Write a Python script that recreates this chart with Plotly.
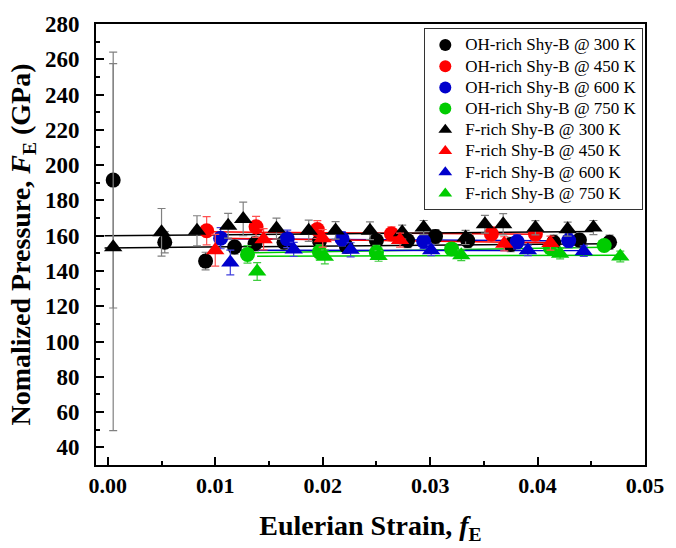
import plotly.graph_objects as go

# ---------------- data ----------------
series_names = ["OH-rich Shy-B @ 300 K", "OH-rich Shy-B @ 450 K", "OH-rich Shy-B @ 600 K", "OH-rich Shy-B @ 750 K",
                "F-rich Shy-B @ 300 K", "F-rich Shy-B @ 450 K", "F-rich Shy-B @ 600 K", "F-rich Shy-B @ 750 K"]

oh300_x = [0.0005, 0.0053, 0.0091, 0.0118, 0.0137, 0.0164, 0.0197, 0.0222, 0.0250, 0.0279, 0.0305, 0.0335, 0.0375, 0.0415, 0.0439, 0.0467]
oh300_y = [191.5, 156.3, 145.6, 153.6, 155.4, 156.3, 157.0, 154.0, 157.2, 157.2, 159.5, 157.2, 155.0, 156.3, 157.5, 156.3]
oh300_e = [72.5, 6, 5, 4, 4, 4, 4, 4, 4, 4, 4, 4, 4, 4, 4, 4]

oh450_x = [0.0092, 0.0138, 0.0195, 0.0264, 0.0357, 0.0398]
oh450_y = [162.8, 165.0, 163.5, 161.0, 161.0, 161.0]
oh450_e = [8, 6, 5, 4, 4, 4]

oh600_x = [0.0105, 0.0167, 0.0218, 0.0294, 0.0381, 0.0429]
oh600_y = [158.6, 158.2, 158.2, 156.8, 156.5, 157.2]
oh600_e = [6, 5, 4, 4, 4, 4]

oh750_x = [0.0130, 0.0197, 0.0250, 0.0320, 0.0412, 0.0462]
oh750_y = [149.4, 150.8, 150.5, 152.5, 153.0, 154.4]
oh750_e = [5, 4, 4, 3, 3, 3]

f300_x = [0.0005, 0.0050, 0.0083, 0.0112, 0.0126, 0.0157, 0.0187, 0.0212, 0.0244, 0.0274, 0.0294, 0.0333, 0.0351, 0.0368, 0.0398, 0.0428, 0.0452]
f300_y = [153.5, 161.9, 162.8, 165.6, 169.5, 164.0, 162.8, 163.0, 162.8, 162.0, 164.6, 159.0, 166.5, 166.5, 164.5, 163.7, 164.6]
f300_e = [104, 13.5, 8.5, 7, 9.5, 6, 6, 5, 5, 4, 4, 4, 5, 6, 4, 4, 4]

f450_x = [0.0100, 0.0145, 0.0200, 0.0272, 0.0369, 0.0412]
f450_y = [151.7, 158.0, 158.5, 157.5, 155.4, 155.8]
f450_e = [9, 6, 5, 4, 4, 4]

f600_x = [0.0114, 0.0173, 0.0226, 0.0301, 0.0391, 0.0443]
f600_y = [144.8, 152.2, 152.0, 151.7, 151.7, 151.2]
f600_e = [7, 4, 4, 3, 3, 3]

f750_x = [0.0139, 0.0202, 0.0252, 0.0329, 0.0421, 0.0477]
f750_y = [139.7, 148.0, 148.5, 148.9, 149.8, 148.2]
f750_e = [5, 4, 3, 3, 3, 3]

# linear fits  F_E = a + b * f_E
fit_a = [153.1, 162.6, 158.7, 149.0, 160.0, 159.3, 151.9, 148.0]
fit_b = [51.0, -45.0, -40.0, 97.0, 51.0, -80.0, -8.0, 20.0]
fit_x0 = [-0.0003, 0.0092, 0.0105, 0.0130, -0.0003, 0.0100, 0.0114, 0.0139]
fit_x1 = [0.0467, 0.0398, 0.0429, 0.0462, 0.0452, 0.0412, 0.0443, 0.0477]

x_ticks = [0.00, 0.01, 0.02, 0.03, 0.04, 0.05]
y_ticks = [40, 60, 80, 100, 120, 140, 160, 180, 200, 220, 240, 260, 280]

# ---------------- styles ----------------
colors = ["#000000", "#ff0000", "#0000cc", "#00cc00", "#000000", "#ff0000", "#0000cc", "#00cc00"]
err_colors = ["#808080", "#ff5050", "#4040dd", "#40cc40", "#808080", "#ff5050", "#4040dd", "#40cc40"]
symbols = ["circle"] * 4 + ["triangle-up"] * 4
xs = [oh300_x, oh450_x, oh600_x, oh750_x, f300_x, f450_x, f600_x, f750_x]
ys = [oh300_y, oh450_y, oh600_y, oh750_y, f300_y, f450_y, f600_y, f750_y]
es = [oh300_e, oh450_e, oh600_e, oh750_e, f300_e, f450_e, f600_e, f750_e]

FONT = "Liberation Serif, Times New Roman, serif"

fig = go.Figure()

# fit lines first (behind markers)
for i in range(8):
    lx = [fit_x0[i], fit_x1[i]]
    ly = [fit_a[i] + fit_b[i] * v for v in lx]
    fig.add_trace(go.Scatter(x=lx, y=ly, mode="lines", line=dict(color=colors[i], width=1.5),
                             showlegend=False, hoverinfo="skip"))

for i in range(8):
    fig.add_trace(go.Scatter(
        x=xs[i], y=ys[i], mode="markers",
        name='<span style="font-size:17px">' + series_names[i] + '</span>',
        marker=dict(symbol=symbols[i], color=colors[i], size=15 if i < 4 else 16, line=dict(width=0)),
        error_y=dict(type="data", array=es[i], visible=True, color=err_colors[i], thickness=1.2, width=4),
    ))

fig.update_layout(
    width=676, height=548,
    margin=dict(l=96, r=20, t=21, b=77),
    paper_bgcolor="white", plot_bgcolor="white",
    font=dict(family=FONT, color="black"),
    showlegend=True,
    legend=dict(x=0.598, y=0.99, xanchor="left", yanchor="top",
                bgcolor="white", bordercolor="#333333", borderwidth=1,
                font=dict(family=FONT, size=14, color="black"),
                itemsizing="constant", tracegroupgap=0),
)

fig.update_xaxes(
    range=[-0.0011, 0.05], tickvals=x_ticks, ticktext=["%.2f" % v for v in x_ticks],
    showgrid=False, zeroline=False, showline=True, linecolor="black", linewidth=2, mirror=True,
    ticks="inside", ticklen=8, tickwidth=2, tickcolor="black", ticklabeloverflow="allow",
    minor=dict(dtick=0.005, tick0=0, ticks="inside", ticklen=4, tickwidth=1.5, tickcolor="black", showgrid=False),
    tickfont=dict(family=FONT, size=22, color="black", weight="bold"),
    title=dict(text="Eulerian Strain, <i>f</i><sub>E</sub>", font=dict(family=FONT, size=28, color="black", weight="bold"), standoff=18),
)
fig.update_yaxes(
    range=[30, 280], tickvals=y_ticks, ticktext=[str(v) for v in y_ticks],
    showgrid=False, zeroline=False, showline=True, linecolor="black", linewidth=2, mirror=True,
    ticks="inside", ticklen=8, tickwidth=2, tickcolor="black",
    minor=dict(dtick=10, tick0=0, ticks="inside", ticklen=4, tickwidth=1.5, tickcolor="black", showgrid=False),
    tickfont=dict(family=FONT, size=23, color="black", weight="bold"),
    ticklabelstandoff=10,
    title=dict(text="Nomalized Pressure, <i>F</i><sub>E</sub> (GPa)", font=dict(family=FONT, size=28, color="black", weight="bold"), standoff=6),
)

fig.write_html("out.html")
